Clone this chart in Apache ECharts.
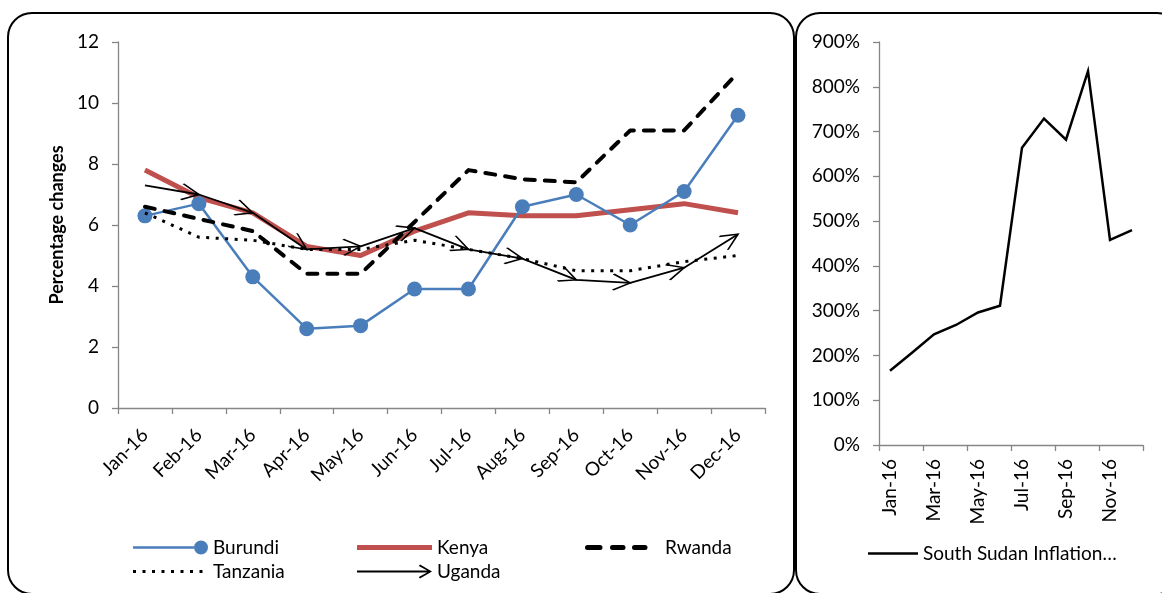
<!DOCTYPE html>
<html>
<head>
<meta charset="utf-8">
<script src="https://cdn.jsdelivr.net/npm/echarts@6/dist/echarts.min.js"></script>
<style>
  html, body { margin: 0; padding: 0; background: #fff; }
  #chart { width: 1162px; height: 593px; }
</style>
</head>
<body>
<div id="chart"></div>
<script>
// Monthly inflation, East African Community, 2016
const months = ['Jan-16', 'Feb-16', 'Mar-16', 'Apr-16', 'May-16', 'Jun-16',
                'Jul-16', 'Aug-16', 'Sep-16', 'Oct-16', 'Nov-16', 'Dec-16'];
const burundi  = [6.3, 6.7, 4.3, 2.6, 2.7, 3.9, 3.9, 6.6, 7.0, 6.0, 7.1, 9.6];
const kenya    = [7.8, 6.9, 6.4, 5.3, 5.0, 5.8, 6.4, 6.3, 6.3, 6.5, 6.7, 6.4];
const rwanda   = [6.6, 6.2, 5.8, 4.4, 4.4, 6.1, 7.8, 7.5, 7.4, 9.1, 9.1, 11.0];
const tanzania = [6.4, 5.6, 5.5, 5.2, 5.2, 5.5, 5.2, 4.9, 4.5, 4.5, 4.8, 5.0];
const uganda   = [7.3, 7.0, 6.4, 5.2, 5.3, 5.9, 5.2, 4.9, 4.2, 4.1, 4.6, 5.7];
// South Sudan, per cent
const southSudan = [166, 206, 247, 268, 296, 311, 664, 729, 682, 835, 458, 480];

const leftTicks = { min: 0, max: 12, interval: 2 };
const rightTicks = { min: 0, max: 900, interval: 100 };

const FONT = 'Lato, "Open Sans", sans-serif';
const FONT_SIZE = 19;
const AXIS_GREY = '#868686';
const BLUE = '#4A7EBB';
const RED = '#C0504D';

// open arrowhead with its tip at the symbol centre
const ARROW = 'path://M0,0 L15,7 L0,14 M30,7';

// legend icons
const ICON_BURUNDI = 'path://M0,5.75 L61,5.75 L61,8.25 L0,8.25 Z M61,7 A7,7 0 1,1 75,7 A7,7 0 1,1 61,7 Z';
const ICON_KENYA = 'path://M0,0 M0,4.5 L75,4.5 L75,9.5 L0,9.5 Z M75,14';
const ICON_RWANDA = 'path://M0,0 M2.5,4.5 L15,4.5 A2.5,2.5 0 0,1 15,9.5 L2.5,9.5 A2.5,2.5 0 0,1 2.5,4.5 Z ' +
  'M27.5,4.5 L38,4.5 A2.5,2.5 0 0,1 38,9.5 L27.5,9.5 A2.5,2.5 0 0,1 27.5,4.5 Z ' +
  'M49.5,4.5 L60,4.5 A2.5,2.5 0 0,1 60,9.5 L49.5,9.5 A2.5,2.5 0 0,1 49.5,4.5 Z M75,14';
let dots = 'path://M0,0 ';
for (let k = 0; k < 8; k++) {
  const cx = 1.5 + k * 9.5;
  dots += 'M' + (cx - 1.5) + ',5.5 L' + (cx + 1.5) + ',5.5 L' + (cx + 1.5) + ',8.5 L' + (cx - 1.5) + ',8.5 Z ';
}
const ICON_TANZANIA = dots + 'M75,14';
const ICON_UGANDA = 'path://M0,0 M0,6.1 L73,6.1 L73,7.9 L0,7.9 Z M63,0 L75,7 L63,14 L61.8,12.6 L72,7 L61.8,1.4 Z M75,14';
const ICON_SSUDAN = 'path://M0,0 M0,5.75 L50,5.75 L50,8.25 L0,8.25 Z M50,14';

const chart = echarts.init(document.getElementById('chart'), null, { renderer: 'canvas' });

const axisLineStyle = { lineStyle: { color: AXIS_GREY, width: 1.3 } };
const labelStyle = { color: '#000', fontFamily: FONT, fontSize: FONT_SIZE };
const legendText = { color: '#000', fontFamily: FONT, fontSize: FONT_SIZE };

function legendItem(name, icon, color) {
  return { name: name, icon: icon, itemStyle: { color: color, borderWidth: 0 } };
}

const option = {
  animation: false,
  backgroundColor: '#fff',
  textStyle: { fontFamily: FONT },
  graphic: [
    { type: 'rect', shape: { x: 8, y: 13, width: 786, height: 581, r: 24 },
      style: { fill: 'none', stroke: '#000', lineWidth: 2 }, silent: true },
    { type: 'rect', shape: { x: 796, y: 13, width: 385, height: 581, r: 24 },
      style: { fill: 'none', stroke: '#000', lineWidth: 2 }, silent: true }
  ],
  grid: [
    { left: 118, top: 42, width: 647, height: 366 },
    { left: 879, top: 42, width: 264, height: 403 }
  ],
  xAxis: [
    {
      type: 'category', gridIndex: 0, data: months, boundaryGap: true,
      axisLine: axisLineStyle,
      axisTick: { show: true, length: 6, lineStyle: { color: AXIS_GREY, width: 1.3 } },
      axisLabel: Object.assign({ rotate: 45, interval: 0, margin: 24 }, labelStyle),
      splitLine: { show: false }
    },
    {
      type: 'category', gridIndex: 1, data: months, boundaryGap: true,
      axisLine: axisLineStyle,
      axisTick: { show: true, length: 6, interval: 1, lineStyle: { color: AXIS_GREY, width: 1.3 } },
      axisLabel: Object.assign({ rotate: 90, interval: 1, margin: 14 }, labelStyle),
      splitLine: { show: false }
    }
  ],
  yAxis: [
    {
      type: 'value', gridIndex: 0,
      min: leftTicks.min, max: leftTicks.max, interval: leftTicks.interval,
      name: 'Percentage changes', nameLocation: 'middle', nameGap: 52,
      nameTextStyle: { color: '#000', fontFamily: FONT, fontSize: 18, fontWeight: 'bold' },
      axisLine: Object.assign({ show: true }, axisLineStyle),
      axisTick: { show: true, length: 6, lineStyle: { color: AXIS_GREY, width: 1.3 } },
      axisLabel: Object.assign({ margin: 19 }, labelStyle),
      splitLine: { show: false }
    },
    {
      type: 'value', gridIndex: 1,
      min: rightTicks.min, max: rightTicks.max, interval: rightTicks.interval,
      axisLine: Object.assign({ show: true }, axisLineStyle),
      axisTick: { show: true, length: 6, lineStyle: { color: AXIS_GREY, width: 1.3 } },
      axisLabel: Object.assign({ margin: 19, formatter: '{value}%' }, labelStyle),
      splitLine: { show: false }
    }
  ],
  legend: [
    {
      orient: 'vertical', left: 128, top: 533, itemWidth: 75, itemHeight: 14, itemGap: 5,
      textStyle: legendText, selectedMode: false,
      data: [legendItem('Burundi', ICON_BURUNDI, BLUE), legendItem('Tanzania', ICON_TANZANIA, '#000')]
    },
    {
      orient: 'vertical', left: 352, top: 533, itemWidth: 75, itemHeight: 14, itemGap: 5,
      textStyle: legendText, selectedMode: false,
      data: [legendItem('Kenya', ICON_KENYA, RED), legendItem('Uganda', ICON_UGANDA, '#000')]
    },
    {
      orient: 'vertical', left: 580, top: 533, itemWidth: 75, itemHeight: 14,
      textStyle: legendText, selectedMode: false,
      data: [legendItem('Rwanda', ICON_RWANDA, '#000')]
    },
    {
      orient: 'vertical', left: 863, top: 539, itemWidth: 50, itemHeight: 14,
      textStyle: legendText, selectedMode: false,
      data: [legendItem('South Sudan Inflation…', ICON_SSUDAN, '#000')]
    }
  ],
  series: [
    {
      name: 'Burundi', type: 'line', xAxisIndex: 0, yAxisIndex: 0, data: burundi,
      symbol: 'circle', symbolSize: 15, showAllSymbol: true,
      itemStyle: { color: BLUE },
      lineStyle: { color: BLUE, width: 2.5 },
      z: 3
    },
    {
      name: 'Kenya', type: 'line', xAxisIndex: 0, yAxisIndex: 0, data: kenya,
      symbol: 'none',
      itemStyle: { color: RED },
      lineStyle: { color: RED, width: 5, join: 'round' },
      z: 2
    },
    {
      name: 'Rwanda', type: 'line', xAxisIndex: 0, yAxisIndex: 0, data: rwanda,
      symbol: 'none',
      itemStyle: { color: '#000' },
      lineStyle: { color: '#000', width: 4, type: [10, 10], cap: 'round', join: 'round' },
      z: 4
    },
    {
      name: 'Tanzania', type: 'line', xAxisIndex: 0, yAxisIndex: 0, data: tanzania,
      symbol: 'none',
      itemStyle: { color: '#000' },
      lineStyle: { color: '#000', width: 3, type: [3, 6.5] },
      z: 4
    },
    {
      name: 'Uganda', type: 'line', xAxisIndex: 0, yAxisIndex: 0, data: uganda,
      symbol: ARROW, symbolSize: [34, 16], showAllSymbol: true,
      itemStyle: { color: 'rgba(0,0,0,0)', borderColor: '#000', borderWidth: 1.8 },
      lineStyle: { color: '#000', width: 1.8 },
      z: 5
    },
    {
      name: 'South Sudan Inflation…', type: 'line', xAxisIndex: 1, yAxisIndex: 1, data: southSudan,
      symbol: 'none',
      itemStyle: { color: '#000' },
      lineStyle: { color: '#000', width: 2.5, join: 'miter' }
    }
  ]
};

chart.setOption(option);

// point each Uganda arrowhead along the segment that ends at it
const ugandaData = uganda.map(function (v, i) {
  if (i === 0) return { value: v, symbol: 'none' };
  const p0 = chart.convertToPixel({ xAxisIndex: 0, yAxisIndex: 0 }, [i - 1, uganda[i - 1]]);
  const p1 = chart.convertToPixel({ xAxisIndex: 0, yAxisIndex: 0 }, [i, v]);
  const deg = Math.atan2(p0[1] - p1[1], p1[0] - p0[0]) * 180 / Math.PI;
  return { value: v, symbolRotate: deg };
});
chart.setOption({ series: [{ name: 'Uganda', data: ugandaData }] });
</script>
</body>
</html>
